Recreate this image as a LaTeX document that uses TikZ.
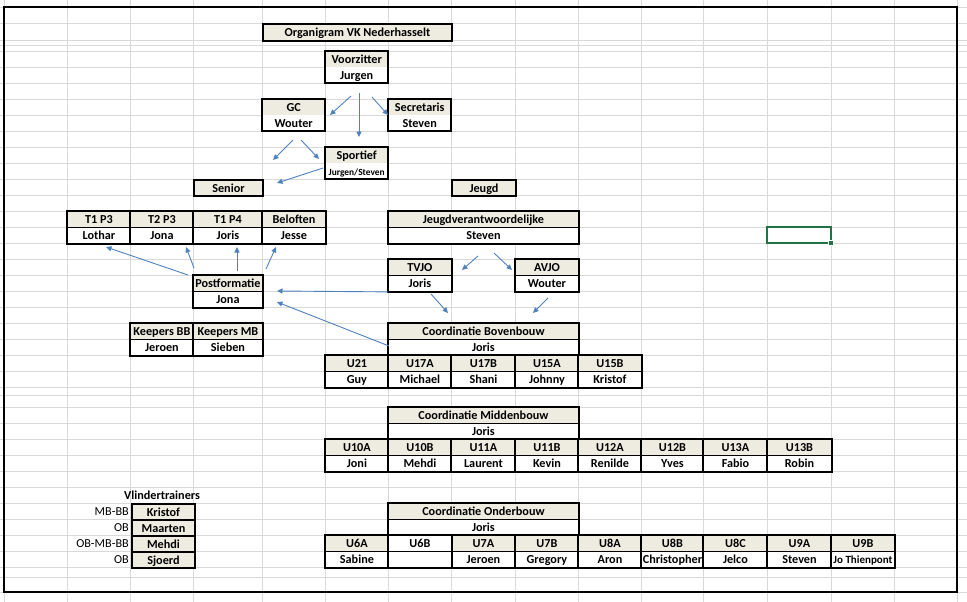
\documentclass[tikz,border=0pt]{standalone}
\usepackage{fontspec}
\setmainfont{Carlito}
\usetikzlibrary{arrows.meta}
\definecolor{beige}{HTML}{EEECE1}
\definecolor{gridc}{HTML}{D9D9D9}
\definecolor{arr}{HTML}{4F81BD}
\definecolor{selgreen}{HTML}{217346}
\newcommand\cellat[6]{\node[#2, minimum width={#4pt-#3pt}] (#1) at (#3,#5) {#6};}
\tikzset{
 cellbase/.style={inner sep=0pt, minimum height=16pt, anchor=north west, font=\fontsize{12.2}{14}\selectfont\bfseries, text height=9pt, text depth=0pt},
 hdr/.style={cellbase, fill=beige, draw, line width=0.9pt},
 nm/.style={cellbase, fill=white, draw, line width=0.9pt},
 hdrn/.style={cellbase, fill=beige},
 nmn/.style={cellbase, fill=white},
 single/.style={cellbase, fill=beige, draw, line width=2pt},
 outer/.style={draw=black, line width=2pt},
 conn/.style={draw=arr, line width=0.9pt, -{Triangle[length=5.5pt,width=5pt]}},
 gridline/.style={draw=gridc, line width=0.8pt},
 lbl/.style={inner sep=0pt, anchor=east, font=\fontsize{12.2}{14}\selectfont, text height=9pt, text depth=0pt, minimum height=16pt}
}
\begin{document}
\begin{tikzpicture}[x=1pt,y=-1pt]
\useasboundingbox (0,0) rectangle (967,602);
% spreadsheet grid
\foreach \yy in {7,23,40,45,51,67,83,99,115,131,147,163,179,195,211,227,243,259,275,291,307,323,339,355,371,387,395,407,423,439,455,471,487,503,519,535,551,567,577,592}
  \draw[gridline] (0,\yy) -- (967,\yy);
\foreach \xx in {4,67,130,193,262,325,388,451,515,578,641,703,767,831,894,957}
  \draw[gridline] (\xx,0) -- (\xx,602);
% frame
\draw[line width=2.5pt] (4,7) rectangle (957,592);

% title
\cellat{title}{single,minimum height=17pt}{262}{451}{23}{Organigram VK Nederhasselt}
% board
\cellat{vz}{hdrn}{325}{388}{51}{Voorzitter}
\cellat{vzn}{nmn}{325}{388}{67}{Jurgen}
\draw[outer] (vz.north west) rectangle (vzn.south east);
\cellat{gc}{hdrn}{262}{325}{99}{GC}
\cellat{gcn}{nmn}{262}{325}{115}{Wouter}
\draw[outer] (gc.north west) rectangle (gcn.south east);
\cellat{sec}{hdrn}{388}{451}{99}{Secretaris}
\cellat{secn}{nmn}{388}{451}{115}{Steven}
\draw[outer] (sec.north west) rectangle (secn.south east);
\cellat{sp}{hdrn}{325}{388}{147}{Sportief}
\cellat{spn}{nmn,font=\fontsize{9.4}{11}\selectfont\bfseries}{325}{388}{163}{Jurgen/Steven}
\draw[outer] (sp.north west) rectangle (spn.south east);
\cellat{senior}{single}{193}{262}{179}{Senior}
\cellat{jeugd}{single}{451}{515}{179}{Jeugd}

% senior teams
\foreach \n/\a/\b/\h/\m in {1/67/130/T1 P3/Lothar,2/130/193/T2 P3/Jona,3/193/262/T1 P4/Joris,4/262/325/Beloften/Jesse}{
  \cellat{s\n}{hdr}{\a}{\b}{211}{\h}
  \cellat{s\n n}{nm}{\a}{\b}{227}{\m}
  \draw[outer] (s\n.north west) rectangle (s\n n.south east);
}
% youth
\cellat{jv}{hdr}{388}{578}{211}{Jeugdverantwoordelijke}
\cellat{jvn}{nm}{388}{578}{227}{Steven}
\draw[outer] (jv.north west) rectangle (jvn.south east);
\cellat{tvjo}{hdr}{388}{451}{259}{TVJO}
\cellat{tvjon}{nm}{388}{451}{275}{Joris}
\draw[outer] (tvjo.north west) rectangle (tvjon.south east);
\cellat{avjo}{hdr}{515}{578}{259}{AVJO}
\cellat{avjon}{nm}{515}{578}{275}{Wouter}
\draw[outer] (avjo.north west) rectangle (avjon.south east);
\cellat{pf}{hdr}{193}{262}{275}{Postformatie}
\cellat{pfn}{nm}{193}{262}{291}{Jona}
\draw[outer] (pf.north west) rectangle (pfn.south east);
\cellat{kbb}{hdr}{130}{193}{323}{Keepers BB}
\cellat{kbbn}{nm}{130}{193}{339}{Jeroen}
\draw[outer] (kbb.north west) rectangle (kbbn.south east);
\cellat{kmb}{hdr}{193}{262}{323}{Keepers MB}
\cellat{kmbn}{nm}{193}{262}{339}{Sieben}
\draw[outer] (kmb.north west) rectangle (kmbn.south east);

% Bovenbouw
\cellat{cbb}{hdr}{388}{578}{323}{Coordinatie Bovenbouw}
\cellat{cbbn}{nm}{388}{578}{339}{Joris}
\draw[outer] (cbb.north west) rectangle (cbbn.south east);
\foreach \n/\a/\b/\h/\m in {1/325/388/U21/Guy,2/388/451/U17A/Michael,3/451/515/U17B/Shani,4/515/578/U15A/Johnny,5/578/641/U15B/Kristof}{
  \cellat{b\n}{hdr}{\a}{\b}{355}{\h}
  \cellat{b\n n}{nm}{\a}{\b}{371}{\m}
  \draw[outer] (b\n.north west) rectangle (b\n n.south east);
}
% Middenbouw
\cellat{cmb}{hdr}{388}{578}{407}{Coordinatie Middenbouw}
\cellat{cmbn}{nm}{388}{578}{423}{Joris}
\draw[outer] (cmb.north west) rectangle (cmbn.south east);
\foreach \n/\a/\b/\h/\m in {1/325/388/U10A/Joni,2/388/451/U10B/Mehdi,3/451/515/U11A/Laurent,4/515/578/U11B/Kevin,5/578/641/U12A/Renilde,6/641/703/U12B/Yves,7/703/767/U13A/Fabio,8/767/831/U13B/Robin}{
  \cellat{m\n}{hdr}{\a}{\b}{439}{\h}
  \cellat{m\n n}{nm}{\a}{\b}{455}{\m}
  \draw[outer] (m\n.north west) rectangle (m\n n.south east);
}
% Onderbouw
\cellat{cob}{hdr}{388}{578}{503}{Coordinatie Onderbouw}
\cellat{cobn}{nm}{388}{578}{519}{Joris}
\draw[outer] (cob.north west) rectangle (cobn.south east);
\foreach \n/\a/\b/\h/\m in {1/325/388/U6A/Sabine,3/451/515/U7A/Jeroen,4/515/578/U7B/Gregory,5/578/641/U8A/Aron,6/641/703/U8B/Christopher,7/703/767/U8C/Jelco,8/767/831/U9A/Steven}{
  \cellat{o\n}{hdr}{\a}{\b}{535}{\h}
  \cellat{o\n n}{nm}{\a}{\b}{551}{\m}
  \draw[outer] (o\n.north west) rectangle (o\n n.south east);
}
\cellat{o2}{nm}{388}{451}{535}{U6B}
\cellat{o2n}{nm}{388}{451}{551}{}
\draw[outer] (o2.north west) rectangle (o2n.south east);
\cellat{o9}{hdr}{831}{894}{535}{U9B}
\cellat{o9n}{nm,font=\fontsize{11}{13}\selectfont\bfseries}{831}{894}{551}{Jo Thienpont}
\draw[outer] (o9.north west) rectangle (o9n.south east);

% Vlindertrainers
\node[cellbase, anchor=center] (vl) at (162,495) {Vlindertrainers};
\cellat{v1}{single}{131}{194}{503}{Kristof}
\cellat{v2}{single}{131}{194}{519}{Maarten}
\cellat{v3}{single}{131}{194}{535}{Mehdi}
\cellat{v4}{single}{131}{194}{551}{Sjoerd}
\node[lbl] (l1) at (129,511) {MB-BB};
\node[lbl] (l2) at (129,527) {OB};
\node[lbl] (l3) at (129,543) {OB-MB-BB};
\node[lbl] (l4) at (129,559) {OB};

% arrow end points
\coordinate (a1s) at (351,96);  \coordinate (a1e) at (330,115);
\coordinate (a2s) at (359,93);  \coordinate (a2e) at (359,137);
\coordinate (a3s) at (372,97);  \coordinate (a3e) at (388,115);
\coordinate (a4s) at (293,140); \coordinate (a4e) at (273,160);
\coordinate (a5s) at (301,140); \coordinate (a5e) at (319,159);
\coordinate (a6s) at (323,168); \coordinate (a6e) at (277,183);
\coordinate (a7s) at (188,275); \coordinate (a7e) at (106,247);
\coordinate (a8s) at (194,268); \coordinate (a8e) at (186,247);
\coordinate (a9s) at (237,271); \coordinate (a9e) at (237,247);
\coordinate (a10s) at (266,269); \coordinate (a10e) at (276,247);
\coordinate (a12s) at (389,346); \coordinate (a12e) at (277,302);
\coordinate (a11e) at (277,291);
\coordinate (a13s) at (478,256); \coordinate (a13e) at (462,270);
\coordinate (a14s) at (494,253); \coordinate (a14e) at (512,270);
\coordinate (a15s) at (431,294); \coordinate (a15e) at (448,313);
\coordinate (a16s) at (548,298); \coordinate (a16e) at (533,313);
\foreach \i in {1,2,3,4,5,6,7,8,9,10,12,13,14,15,16}
  \draw[conn] (a\i s) -- (a\i e);
\draw[conn] (tvjon.south west) -- (a11e);

% selected cell
\draw[selgreen, line width=1.2pt] (767,227) rectangle (831,243);
\fill[selgreen, draw=white, line width=0.6pt] (828.5,240.5) rectangle (833.5,245.5);
\end{tikzpicture}
\end{document}
